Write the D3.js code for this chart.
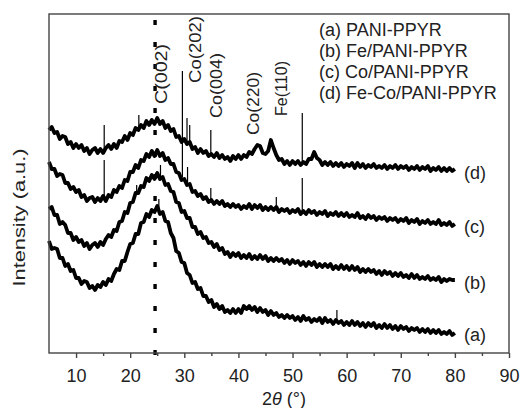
<!DOCTYPE html>
<html>
<head>
<meta charset="utf-8">
<script src="https://cdn.jsdelivr.net/npm/d3@7/dist/d3.min.js"></script>
<style>
  body { margin: 0; background: #fff; }
  svg { display: block; font-family: "Liberation Sans", Arial, sans-serif; }
  .trace { fill: none; stroke: #000; stroke-width: 3.8; stroke-linejoin: round; }
  .spike { stroke: #000; stroke-width: 1.2; }
  .frame { fill: none; stroke: #444; stroke-width: 1.4; }
</style>
</head>
<body>
<svg id="chart" width="520" height="408"></svg>
<script>
// 2theta grid (degrees)
const angles = [
  5,5.5,6,6.5,7,7.5,8,8.5,9,9.5,
  10,10.5,11,11.5,12,12.5,13,13.5,14,14.5,
  15,15.5,16,16.5,17,17.5,18,18.5,19,19.5,
  20,20.5,21,21.5,22,22.5,23,23.5,24,24.5,
  25,25.5,26,26.5,27,27.5,28,28.5,29,29.5,
  30,30.5,31,31.5,32,32.5,33,33.5,34,34.5,
  35,35.5,36,36.5,37,37.5,38,38.5,39,39.5,
  40,40.5,41,41.5,42,42.5,43,43.5,44,44.5,
  45,45.5,46,46.5,47,47.5,48,48.5,49,49.5,
  50,50.5,51,51.5,52,52.5,53,53.5,54,54.5,
  55,55.5,56,56.5,57,57.5,58,58.5,59,59.5,
  60,60.5,61,61.5,62,62.5,63,63.5,64,64.5,
  65,65.5,66,66.5,67,67.5,68,68.5,69,69.5,
  70,70.5,71,71.5,72,72.5,73,73.5,74,74.5,
  75,75.5,76,76.5,77,77.5,78,78.5,79,79.5,
  80
];

// intensity (a.u., curves already offset)
const seriesA = [
  112,104,105,104,95,95,87,89,82,83,
  75,75,69,72,71,65,67,63,68,66,
  71,68,74,72,79,84,83,92,92,101,
  109,110,119,119,130,131,139,136,143,141,
  147,139,141,132,131,120,115,102,100,91,
  90,80,78,70,71,64,65,57,57,51,
  53,46,49,44,47,41,43,40,44,40,
  44,40,47,44,47,43,46,41,45,41,
  43,38,42,38,40,36,38,35,38,35,
  37,33,36,32,37,33,35,31,34,32,
  35,30,35,31,33,29,33,30,32,28,
  31,28,32,28,31,27,30,26,30,27,
  30,25,28,25,29,25,28,24,27,23,
  27,24,26,22,25,23,25,21,24,21,
  24,20,23,20,23,19,21,19,22,18,
  20
];
const seriesB = [
  144,146,138,138,129,131,128,120,120,113,
  116,111,113,107,110,104,108,110,106,111,
  108,114,118,116,123,122,131,132,141,140,
  150,151,160,160,167,166,175,172,178,174,
  180,174,176,168,169,162,161,151,150,141,
  142,135,135,126,126,119,121,115,116,110,
  111,106,109,103,105,99,101,96,100,97,
  100,95,98,95,99,94,97,94,98,94,
  97,92,95,92,95,92,94,90,93,89,
  93,90,92,88,91,87,91,88,91,86,
  89,86,89,86,89,84,87,84,88,84,
  87,83,87,83,86,81,84,81,84,81,
  83,79,82,78,82,79,81,77,80,77,
  80,76,78,75,79,75,78,74,76,74,
  77,73,75,73,76,71,74,72,74,73,
  73
];
const seriesC = [
  191,184,184,177,179,178,170,170,164,166,
  161,163,156,158,152,155,156,151,155,152,
  157,152,158,156,163,161,167,165,173,172,
  181,181,188,185,193,192,199,196,202,197,
  203,197,200,193,195,189,189,181,180,173,
  174,168,169,161,162,157,159,154,156,151,
  153,149,152,149,152,147,149,146,149,146,
  148,144,147,145,149,144,148,145,148,143,
  146,143,146,143,146,141,144,142,144,140,
  143,141,144,139,142,139,143,140,142,138,
  141,139,142,137,140,138,141,137,140,137,
  140,136,138,136,140,135,137,134,138,135,
  137,133,136,134,136,132,135,133,135,131,
  134,132,135,130,133,131,134,129,132,130,
  133,129,131,129,133,128,130,128,131,127,
  129
];
const seriesD = [
  223,226,220,221,214,217,216,209,211,205,
  209,205,208,202,205,199,203,205,200,204,
  200,205,208,204,209,205,212,211,217,213,
  220,218,225,223,228,225,232,228,233,229,
  235,229,232,225,228,222,224,216,217,211,
  214,209,211,204,206,200,204,200,202,197,
  199,196,200,195,198,194,196,192,197,194,
  198,194,198,196,201,199,204,208,207,200,
  199,202,213,205,198,193,194,189,192,188,
  192,189,192,188,191,189,194,194,201,195,
  193,188,191,188,191,187,190,187,190,186,
  189,187,190,185,190,186,189,185,188,186,
  189,185,187,185,188,184,187,185,188,184,
  187,185,187,183,186,184,187,183,186,184,
  187,182,185,183,186,182,185,182,185,182,
  184
];

// sharp reflections: [2theta, base, top]
const spikesA = [[25.3, 145, 154], [58.2, 33, 43]];
const spikesB = [[21.2, 158, 168], [25.6, 176, 188]];
const spikesC = [[15.2, 155, 193], [29.65, 176, 213], [30.6, 168, 186], [34.9, 153, 165], [47.0, 146, 156], [51.8, 141, 175]];
const spikesD = [[15.2, 203, 228], [21.6, 226, 238], [29.65, 214, 282], [30.5, 210, 235], [31.0, 208, 228], [34.9, 199, 223], [51.8, 190, 240]];

const curveTags = ["(a)", "(b)", "(c)", "(d)"];
const legendLabels = ["(a) PANI-PPYR", "(b) Fe/PANI-PPYR", "(c) Co/PANI-PPYR", "(d) Fe-Co/PANI-PPYR"];
const peakLabels = ["C(002)", "Co(202)", "Co(004)", "Co(220)", "Fe(110)"];
const carbonAngle = 24.6;
const majorTicks = [10, 20, 30, 40, 50, 60, 70, 80, 90];
const minorTicks = [15, 25, 35, 45, 55, 65, 75, 85];

const svg = d3.select("#chart");
const x = d3.scaleLinear().domain([5, 90]).range([49, 509]);
const y = d3.scaleLinear().domain([0, 339]).range([353, 14]);

const series = [
  { values: seriesA, spikes: spikesA },
  { values: seriesB, spikes: spikesB },
  { values: seriesC, spikes: spikesC },
  { values: seriesD, spikes: spikesD }
];

const line = d3.line()
  .x((d, i) => x(angles[i]))
  .y(d => y(d));

series.forEach(s => {
  svg.append("path").attr("class", "trace").attr("d", line(s.values));
  svg.selectAll(null).data(s.spikes).enter().append("line")
    .attr("class", "spike")
    .attr("x1", d => x(d[0])).attr("x2", d => x(d[0]))
    .attr("y1", d => y(d[1])).attr("y2", d => y(d[2]));
});

// dotted C(002) marker
svg.append("line")
  .attr("x1", x(carbonAngle)).attr("x2", x(carbonAngle))
  .attr("y1", y(0) + 2).attr("y2", y.range()[1])
  .attr("stroke", "#000").attr("stroke-width", 3.4)
  .attr("stroke-dasharray", "5,17");

// frame
svg.append("rect").attr("class", "frame")
  .attr("x", x.range()[0]).attr("y", y.range()[1])
  .attr("width", x.range()[1] - x.range()[0])
  .attr("height", y.range()[0] - y.range()[1]);

// x axis
const gx = svg.append("g").attr("transform", `translate(0,${y.range()[0]})`)
  .call(d3.axisBottom(x).tickValues(majorTicks).tickSize(5).tickFormat(d3.format("d")));
gx.select(".domain").remove();
gx.selectAll("line").attr("stroke", "#444").attr("stroke-width", 1.4);
gx.selectAll("text").attr("y", 28.5).attr("dy", 0)
  .attr("font-size", 18).attr("fill", "#222")
  .attr("font-family", "Liberation Sans, Arial, sans-serif");

const gm = svg.append("g").attr("transform", `translate(0,${y.range()[0]})`)
  .call(d3.axisBottom(x).tickValues(minorTicks).tickSize(3).tickFormat(""));
gm.select(".domain").remove();
gm.selectAll("line").attr("stroke", "#444").attr("stroke-width", 1.4);

// axis titles
const xt = svg.append("text").attr("x", 284).attr("y", 405)
  .attr("text-anchor", "middle").attr("font-size", 18).attr("fill", "#222");
xt.append("tspan").text("2");
xt.append("tspan").attr("font-style", "italic").text("\u03b8");
xt.append("tspan").text(" (\u00b0)");

svg.append("text")
  .attr("transform", "translate(25,217.5) rotate(-90)")
  .attr("text-anchor", "middle").attr("font-size", 17).attr("fill", "#222")
  .attr("textLength", 138).attr("lengthAdjust", "spacingAndGlyphs")
  .text("Intensity (a.u.)");

// legend
svg.selectAll(".legend").data(legendLabels).enter().append("text")
  .attr("class", "legend")
  .attr("x", 319).attr("y", (d, i) => 36 + i * 21)
  .attr("font-size", 18).attr("fill", "#222")
  .text(d => d);

// curve tags at the right end
const tagBaselines = [341, 289, 233, 179];
svg.selectAll(".tag").data(curveTags).enter().append("text")
  .attr("class", "tag")
  .attr("x", 464).attr("y", (d, i) => tagBaselines[i])
  .attr("font-size", 18).attr("fill", "#222")
  .text(d => d);

// peak labels, rotated
const peakPos = [[167, 104, 60], [201, 83, 67], [222, 118, 65], [259, 135, 63], [287, 116, 55]];
svg.selectAll(".peak").data(peakLabels).enter().append("text")
  .attr("class", "peak")
  .attr("transform", (d, i) => `translate(${peakPos[i][0]},${peakPos[i][1]}) rotate(-90)`)
  .attr("font-size", 17).attr("fill", "#222")
  .attr("textLength", (d, i) => peakPos[i][2]).attr("lengthAdjust", "spacingAndGlyphs")
  .text(d => d);
</script>
</body>
</html>
